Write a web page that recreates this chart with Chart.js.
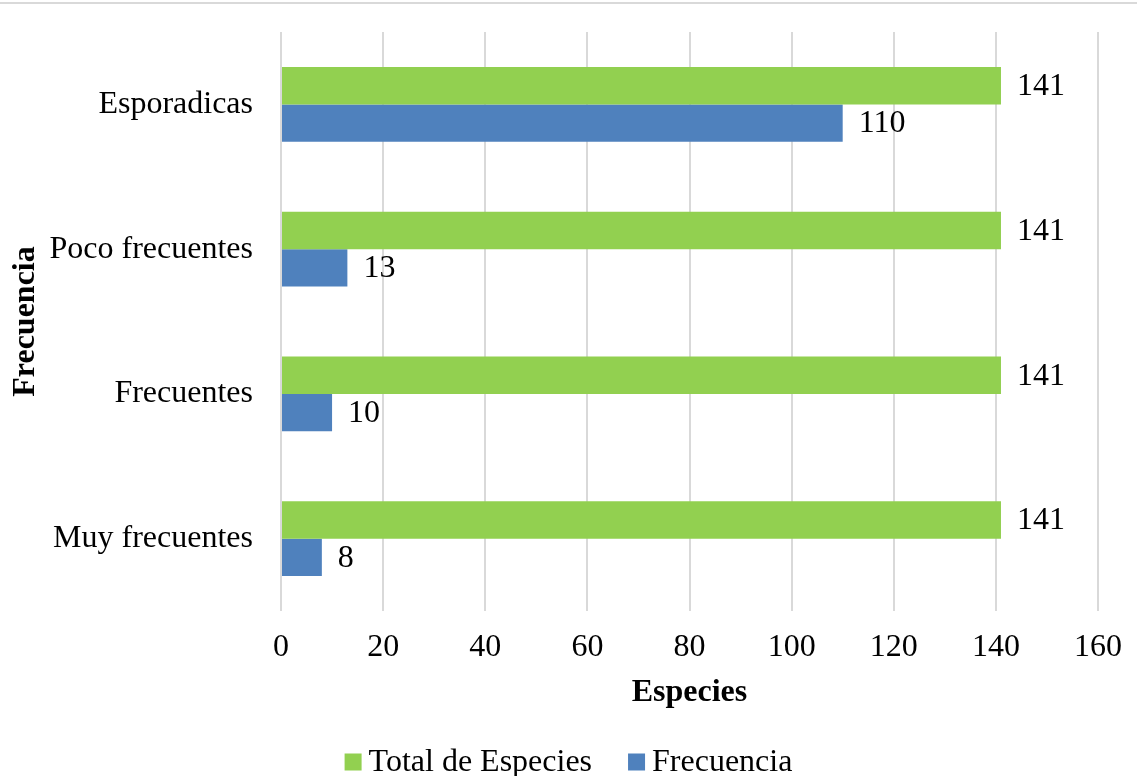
<!DOCTYPE html>
<html>
<head>
<meta charset="utf-8">
<script src="https://cdn.jsdelivr.net/npm/chart.js@4/dist/chart.umd.min.js"></script>
<style>
  html, body { margin: 0; padding: 0; background: #ffffff; }
  #wrap { width: 1137px; height: 776px; position: relative; }
</style>
</head>
<body>
<div id="wrap"><canvas id="chart" width="1137" height="776"></canvas></div>
<script>
// Species frequency classes and counts
const categories = ['Esporadicas', 'Poco frecuentes', 'Frecuentes', 'Muy frecuentes'];
const totalEspecies = [141, 141, 141, 141];
const frecuencia = [110, 13, 10, 8];
const seriesNames = ['Total de Especies', 'Frecuencia'];
const xTicks = [0, 20, 40, 60, 80, 100, 120, 140, 160];

const FONT = '"Liberation Serif", "Times New Roman", serif';
const TEXT = '#000000';

// Light rule along the top edge of the chart frame
const topRule = {
  id: 'topRule',
  beforeDraw(chart) {
    const ctx = chart.ctx;
    ctx.save();
    ctx.strokeStyle = '#d9d9d9';
    ctx.lineWidth = 2;
    ctx.beginPath();
    ctx.moveTo(0, 3);
    ctx.lineTo(chart.width, 3);
    ctx.stroke();
    ctx.restore();
  }
};

// Value printed just past the end of each bar
const barValues = {
  id: 'barValues',
  afterDatasetsDraw(chart) {
    const ctx = chart.ctx;
    ctx.save();
    ctx.font = '32px ' + FONT;
    ctx.fillStyle = TEXT;
    ctx.textAlign = 'left';
    ctx.textBaseline = 'middle';
    chart.data.datasets.forEach((ds, i) => {
      const meta = chart.getDatasetMeta(i);
      meta.data.forEach((bar, j) => {
        ctx.fillText(String(ds.data[j]), bar.x + 16, bar.y + 1);
      });
    });
    ctx.restore();
  }
};

// Legend row centred below the axis title
const bottomLegend = {
  id: 'bottomLegend',
  afterDraw(chart) {
    const ctx = chart.ctx;
    ctx.save();
    ctx.font = '32px ' + FONT;
    const box = 17, gapText = 7, gapItem = 36, cy = 763;
    const items = chart.data.datasets.map(ds => ({
      text: ds.label, color: ds.backgroundColor, w: ctx.measureText(ds.label).width
    }));
    let total = 0;
    items.forEach((it, k) => { total += box + gapText + it.w + (k ? gapItem : 0); });
    let x = chart.width / 2 - total / 2;
    ctx.textBaseline = 'middle';
    ctx.textAlign = 'left';
    items.forEach((it, k) => {
      if (k) x += gapItem;
      ctx.fillStyle = it.color;
      ctx.fillRect(x, cy - box / 2 - 1, box, box);
      x += box + gapText;
      ctx.fillStyle = TEXT;
      ctx.fillText(it.text, x, cy);
      x += it.w;
    });
    ctx.restore();
  }
};

new Chart(document.getElementById('chart'), {
  type: 'bar',
  data: {
    labels: categories,
    datasets: [
      { label: seriesNames[0], data: totalEspecies, backgroundColor: '#92d050',
        categoryPercentage: 0.517, barPercentage: 1.0 },
      { label: seriesNames[1], data: frecuencia, backgroundColor: '#4f81bd',
        categoryPercentage: 0.517, barPercentage: 1.0 }
    ]
  },
  options: {
    indexAxis: 'y',
    responsive: false,
    animation: false,
    layout: { padding: { top: 32, right: 39, bottom: 60, left: 0 } },
    plugins: {
      legend: { display: false },
      tooltip: { enabled: false }
    },
    scales: {
      x: {
        min: 0, max: 160,
        afterBuildTicks(scale) { scale.ticks = xTicks.map(v => ({ value: v })); },
        afterFit(scale) { scale.height = 105; scale.paddingLeft = 0; scale.paddingRight = 0; },
        grid: { color: '#d9d9d9', lineWidth: 2, drawTicks: false },
        border: { display: false },
        ticks: { color: TEXT, font: { family: FONT, size: 32 }, padding: 17, maxRotation: 0 },
        title: { display: true, text: 'Especies', color: TEXT,
                 font: { family: FONT, size: 32, weight: 'bold' }, padding: { top: 4, bottom: 4 } }
      },
      y: {
        afterFit(scale) { scale.width = 281; scale.paddingTop = 0; scale.paddingBottom = 0; },
        grid: { display: false, drawTicks: false },
        border: { display: false },
        ticks: { color: TEXT, font: { family: FONT, size: 32 }, padding: 28 },
        title: { display: true, text: 'Frecuencia', color: TEXT,
                 font: { family: FONT, size: 32, weight: 'bold' }, padding: { top: 7, bottom: 0 } }
      }
    }
  },
  plugins: [topRule, barValues, bottomLegend]
});
</script>
</body>
</html>
